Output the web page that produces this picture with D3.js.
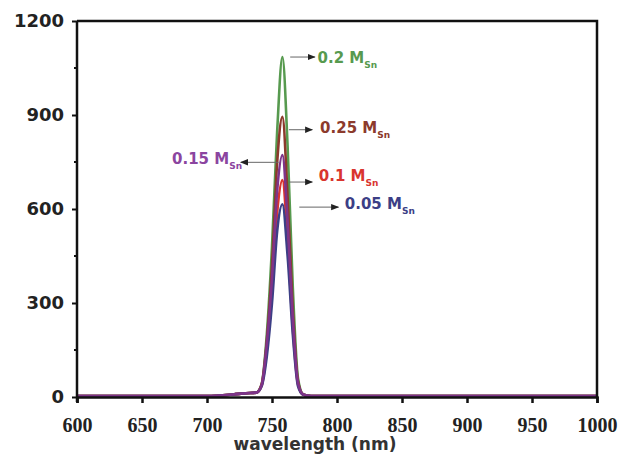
<!DOCTYPE html>
<html>
<head>
<meta charset="utf-8">
<script src="https://cdn.jsdelivr.net/npm/d3@7"></script>
<style>
  body { margin: 0; background: #fff; }
  svg { display: block; }
</style>
</head>
<body>
<svg id="chart" width="634" height="455"></svg>
<script>
// wavelength grid (nm) shared by all curves
const wavelengths = [600, 700, 720, 730, 738, 742, 746, 750, 754, 758, 762, 766, 770, 774, 780, 850, 1000];

const series = [
  { name: "0.2",  color: "#579a4f", values: [3, 3, 8, 12, 14, 40, 200, 480, 850, 1085, 800, 350, 60, 8, 3, 3, 3] },
  { name: "0.25", color: "#8c3a2c", values: [3, 3, 8, 12, 14, 40, 180, 420, 750, 894, 640, 280, 50, 8, 3, 3, 3] },
  { name: "0.1",  color: "#d9352f", values: [3, 3, 8, 12, 14, 36, 150, 340, 590, 692, 500, 220, 40, 7, 3, 3, 3] },
  { name: "0.05", color: "#3c3f86", values: [3, 3, 8, 12, 14, 34, 130, 300, 530, 615, 450, 200, 35, 7, 3, 3, 3] },
  { name: "0.15", color: "#7e3489", values: [3, 3, 8, 12, 14, 38, 170, 380, 660, 772, 560, 250, 45, 8, 3, 3, 3] }
];

const xTicks = [600, 650, 700, 750, 800, 850, 900, 950, 1000];
const yTicks = [0, 300, 600, 900, 1200];
const yMinorTicks = [150, 450, 750, 1050];

const svg = d3.select("#chart");
const margin = { top: 21, right: 37, bottom: 58, left: 77 };
const width = 634, height = 455;

const x = d3.scaleLinear().domain([600, 1000]).range([margin.left, width - margin.right]);
const y = d3.scaleLinear().domain([0, 1200]).range([height - margin.bottom, margin.top]);

svg.append("rect").attr("width", width).attr("height", height).attr("fill", "#fff");

// curves
const line = d3.line()
  .x((d, i) => x(wavelengths[i]))
  .y(d => y(d))
  .curve(d3.curveMonotoneX);

svg.append("g")
  .selectAll("path")
  .data(series)
  .join("path")
  .attr("d", d => line(d.values))
  .attr("fill", "none")
  .attr("stroke", d => d.color)
  .attr("stroke-width", 2.6);

// frame (top and right)
svg.append("path")
  .attr("d", `M${x(600)},${y(1200)}H${x(1000)}V${y(0)}`)
  .attr("fill", "none")
  .attr("stroke", "#111")
  .attr("stroke-width", 2.5);

// x axis
svg.append("g")
  .attr("transform", `translate(0,${y(0)})`)
  .call(d3.axisBottom(x).tickValues(xTicks).tickSize(6).tickFormat(d3.format("d")))
  .call(g => g.select(".domain").attr("stroke", "#111").attr("stroke-width", 2.5))
  .call(g => g.selectAll(".tick line").attr("stroke", "#111").attr("stroke-width", 2.5))
  .call(g => g.selectAll(".tick text")
    .attr("y", 35)
    .attr("dy", 0)
    .attr("fill", "#222")
    .style("font-family", "'Liberation Serif', serif")
    .style("font-weight", "bold")
    .style("font-size", "20px"));

// y axis
svg.append("g")
  .attr("transform", `translate(${margin.left},0)`)
  .call(d3.axisLeft(y).tickValues(yTicks).tickSize(5).tickFormat(d3.format("d")))
  .call(g => g.select(".domain").attr("d", `M0,${y(1200)}V${y(0) + 5}`).attr("stroke", "#111").attr("stroke-width", 2.5))
  .call(g => g.selectAll(".tick line").attr("stroke", "#111").attr("stroke-width", 2))
  .call(g => g.selectAll(".tick text")
    .attr("x", -13)
    .attr("fill", "#222")
    .style("font-family", "'DejaVu Sans', sans-serif")
    .style("font-weight", "bold")
    .style("font-size", "18px"));

svg.append("g")
  .selectAll("line")
  .data(yMinorTicks)
  .join("line")
  .attr("x1", margin.left - 3)
  .attr("x2", margin.left)
  .attr("y1", d => y(d))
  .attr("y2", d => y(d))
  .attr("stroke", "#111")
  .attr("stroke-width", 2);

// x label
svg.append("text")
  .attr("x", 315)
  .attr("y", 450)
  .attr("text-anchor", "middle")
  .attr("fill", "#333")
  .style("font-family", "'DejaVu Sans', sans-serif")
  .style("font-weight", "bold")
  .style("font-size", "17px")
  .text("wavelength (nm)");

// annotations: label placed at a data position, arrow from the curve
const annotations = [
  { name: "0.2",  arrowY: 1085, from: 764, to: 783, textX: 785, baseY: 1066, side: "right" },
  { name: "0.25", arrowY: 853,  from: 763, to: 781, textX: 787, baseY: 841,  side: "right" },
  { name: "0.1",  arrowY: 686,  from: 763, to: 781, textX: 786, baseY: 690,  side: "right" },
  { name: "0.05", arrowY: 606,  from: 771, to: 801, textX: 806, baseY: 600,  side: "right" },
  { name: "0.15", arrowY: 749,  from: 755, to: 726, textX: 727, baseY: 743,  side: "left" }
];

svg.append("defs").selectAll("marker")
  .data(series)
  .join("marker")
  .attr("id", d => "arr" + d.name.replace(".", "_"))
  .attr("viewBox", "0 0 10 10")
  .attr("refX", 9).attr("refY", 5)
  .attr("markerWidth", 8).attr("markerHeight", 8)
  .attr("orient", "auto")
  .append("path")
  .attr("d", "M0,1L10,5L0,9Z")
  .attr("fill", "#222");

const ann = svg.append("g");
annotations.forEach(a => {
  const s = series.find(d => d.name === a.name);
  ann.append("line")
    .attr("x1", x(a.from)).attr("x2", x(a.to))
    .attr("y1", y(a.arrowY)).attr("y2", y(a.arrowY))
    .attr("stroke", "#666")
    .attr("stroke-width", 1)
    .attr("marker-end", `url(#arr${a.name.replace(".", "_")})`);
  const t = ann.append("text")
    .attr("x", x(a.textX))
    .attr("y", y(a.baseY))
    .attr("text-anchor", a.side === "left" ? "end" : "start")
    .attr("fill", s.color === "#7e3489" ? "#8b45a0" : s.color)
    .style("font-family", "'DejaVu Sans', sans-serif")
    .style("font-weight", "bold")
    .style("font-size", "15px");
  t.append("tspan").text(a.name + " M");
  t.append("tspan").attr("dy", 5).style("font-size", "9px").text("Sn");
});
</script>
</body>
</html>
